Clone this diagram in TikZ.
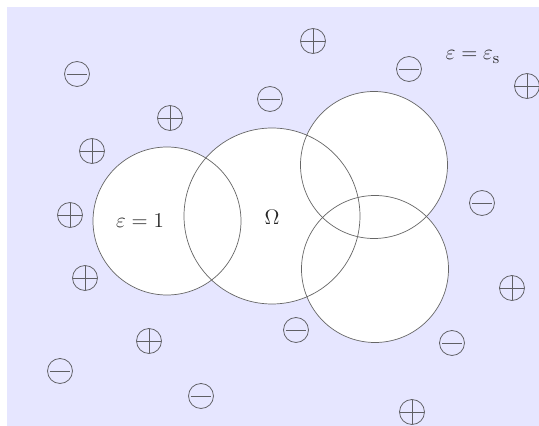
\documentclass[tikz,border=0pt]{standalone}
\usepackage{tikz}
\usetikzlibrary{calc}
\definecolor{solvent}{RGB}{230,230,255}
\definecolor{inkgray}{RGB}{95,95,100}
\tikzset{
  chargesym/.style={circle, draw=inkgray, line width=0.45pt,
                    minimum size=0.5cm, inner sep=0pt},
  pluscharge/.style={chargesym, path picture={
      \draw[inkgray, line width=0.45pt]
        (path picture bounding box.north) -- (path picture bounding box.south)
        (path picture bounding box.west) -- (path picture bounding box.east);}},
  minuscharge/.style={chargesym, path picture={
      \draw[inkgray, line width=0.45pt]
        ([xshift=0.04cm]path picture bounding box.west) --
        ([xshift=-0.04cm]path picture bounding box.east);}},
  atomline/.style={draw=black!60, line width=0.4pt},
  lbl/.style={font=\fontsize{13}{15}\selectfont, inner sep=1pt, text=black!85},
}

\begin{document}
\begin{tikzpicture}[x=0.02cm, y=-0.02cm]
    \useasboundingbox (0,0) rectangle (539,426);
    \fill[solvent] (7,7) rectangle (539,426);

    % solute: union of atomic balls
    \coordinate (a1) at (167,221);
    \coordinate (a2) at (272,216);
    \coordinate (a3) at (374,165);
    \coordinate (a4) at (375,269);
    \foreach \c/\r in {a1/74, a2/88, a3/73.5, a4/73.5}
      \fill[white] (\c) circle (\r);
    \foreach \c/\r in {a1/74, a2/88, a3/73.5, a4/73.5}
      \draw[atomline] (\c) circle (\r);

    \node[lbl] (omega) at (272,217) {$\Omega$};
    \node[lbl] (epsin) at (140,221) {$\varepsilon = 1$};
    \node[lbl] (epsout) at (473,57) {$\varepsilon = \varepsilon_{\mathrm{s}}$};

    % mobile ions
    \foreach \pos [count=\i] in {(313,41),(527,86),(170,118),(92,151),(70,215),
                                 (85,278),(512,288),(149,341),(412,412)}
      \node[pluscharge] (pos\i) at \pos {};
    \foreach \pos [count=\i] in {(77,74),(409,69),(270,99),(482,203),
                                 (296,330),(452,343),(60,371),(201,396)}
      \node[minuscharge] (neg\i) at \pos {};
\end{tikzpicture}
\end{document}
